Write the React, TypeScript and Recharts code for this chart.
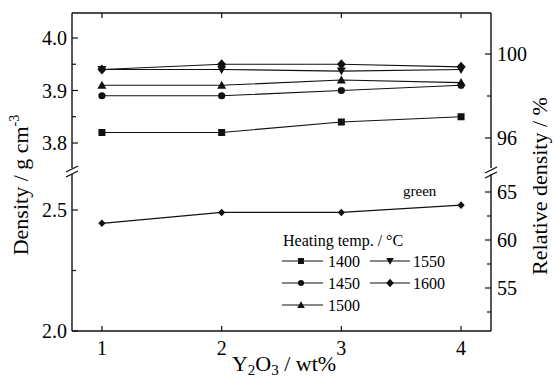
import React from 'react';
import { LineChart, Line, XAxis, YAxis } from 'recharts';

// ---------- data ----------
const xValues = [1, 2, 3, 4];
const xTicks = [1, 2, 3, 4];
const d1400 = [3.82, 3.82, 3.84, 3.85];
const d1450 = [3.89, 3.89, 3.9, 3.91];
const d1500 = [3.91, 3.91, 3.92, 3.915];
const d1550 = [3.94, 3.94, 3.937, 3.94];
const d1600 = [3.94, 3.95, 3.95, 3.945];
const dGreen = [2.445, 2.49, 2.49, 2.52];

const seriesNames = ['1400', '1450', '1500', '1550', '1600'];
const seriesShapes = ['square', 'circle', 'triangle', 'triangleDown', 'diamond'];
const seriesValues = [d1400, d1450, d1500, d1550, d1600];

const upperLeftTicks = [3.8, 3.85, 3.9, 3.95, 4.0];
const upperLeftLabels = [3.8, 3.9, 4.0];
const lowerLeftTicks = [2.0, 2.25, 2.5];
const lowerLeftLabels = [2.0, 2.5];
const upperRightTicks = [96, 98, 100];
const upperRightLabels = [96, 100];
const lowerRightTicks = [52.5, 55, 57.5, 60, 62.5, 65];
const lowerRightLabels = [55, 60, 65];

const upperData = xValues.map((x, i) => {
  const row: any = { x };
  seriesNames.forEach((n, k) => (row['t' + n] = seriesValues[k][i]));
  return row;
});
const lowerData = xValues.map((x, i) => ({ x, green: dGreen[i] }));

// ---------- style ----------
const FONT = '"Liberation Serif", "Times New Roman", serif';
const INK = '#111';
const W = 554;
const LEFT_W = 72;
const RIGHT_W = W - 491;

const isIn = (arr: number[], v: number) => arr.some((a) => Math.abs(a - v) < 1e-6);

const Marker = ({ cx, cy, shape, s = 1 }: any) => {
  if (cx == null || cy == null) return null;
  switch (shape) {
    case 'square':
      return <rect x={cx - 3.5 * s} y={cy - 3.5 * s} width={7 * s} height={7 * s} fill={INK} />;
    case 'circle':
      return <circle cx={cx} cy={cy} r={3.6 * s} fill={INK} />;
    case 'triangle':
      return (
        <path d={`M${cx},${cy - 4.5 * s}L${cx + 4.5 * s},${cy + 3.5 * s}L${cx - 4.5 * s},${cy + 3.5 * s}Z`} fill={INK} />
      );
    case 'triangleDown':
      return (
        <path d={`M${cx},${cy + 4.5 * s}L${cx + 4.5 * s},${cy - 3.5 * s}L${cx - 4.5 * s},${cy - 3.5 * s}Z`} fill={INK} />
      );
    case 'diamond':
      return (
        <path d={`M${cx},${cy - 5 * s}L${cx + 4.5 * s},${cy}L${cx},${cy + 5 * s}L${cx - 4.5 * s},${cy}Z`} fill={INK} />
      );
    case 'smallDiamond':
      return (
        <path d={`M${cx},${cy - 3.8 * s}L${cx + 3.6 * s},${cy}L${cx},${cy + 3.8 * s}L${cx - 3.6 * s},${cy}Z`} fill={INK} />
      );
    default:
      return null;
  }
};

const makeLeftTick = (labels: number[]) => (props: any) => {
  const { x, y, payload } = props;
  const major = isIn(labels, payload.value);
  return (
    <g key={`lt-${payload.value}`}>
      <line x1={x} y1={y} x2={x + (major ? 6 : 4)} y2={y} stroke={INK} strokeWidth={1.2} />
      {major && (
        <text x={x - 5} y={y} dy="0.35em" textAnchor="end" fontSize={20} fontFamily={FONT} fill="#000">
          {Number(payload.value).toFixed(1)}
        </text>
      )}
    </g>
  );
};

const makeRightTick = (labels: number[]) => (props: any) => {
  const { x, y, payload } = props;
  const major = isIn(labels, payload.value);
  return (
    <g key={`rt-${payload.value}`}>
      <line x1={x} y1={y} x2={x - (major ? 6 : 4)} y2={y} stroke={INK} strokeWidth={1.2} />
      {major && (
        <text x={x + 6} y={y} dy="0.35em" textAnchor="start" fontSize={20} fontFamily={FONT} fill="#000">
          {payload.value}
        </text>
      )}
    </g>
  );
};

const TopTick = (props: any) => {
  const { x, y, payload } = props;
  return <line key={`tt-${payload.value}`} x1={x} y1={y} x2={x} y2={y + 5} stroke={INK} strokeWidth={1.2} />;
};

const BottomTick = (props: any) => {
  const { x, y, payload } = props;
  return (
    <g key={`bt-${payload.value}`}>
      <line x1={x} y1={y} x2={x} y2={y - 5} stroke={INK} strokeWidth={1.2} />
      <text x={x} y={y + 24} textAnchor="middle" fontSize={20} fontFamily={FONT} fill="#000">
        {payload.value}
      </text>
    </g>
  );
};

const axisLine = { stroke: INK, strokeWidth: 1.4 };

export default function App() {
  const legendCols = [
    { x0: 282, x1: 323, mx: 301, tx: 328 },
    { x0: 370, x1: 410, mx: 390, tx: 413 },
  ];
  const legendRows = [261, 283, 305];
  const legendItems = seriesNames.map((n, i) => {
    const col = i < 3 ? 0 : 1;
    const row = i < 3 ? i : i - 3;
    return { name: n, shape: seriesShapes[i], c: legendCols[col], y: legendRows[row] };
  });

  return (
    <div
      style={{
        position: 'absolute',
        left: 0,
        top: 0,
        width: W,
        height: 380,
        background: '#fff',
        fontFamily: FONT,
      }}
    >
      {/* upper section */}
      <div style={{ position: 'absolute', left: 0, top: 0 }}>
        <LineChart width={W} height={168} data={upperData} margin={{ top: 12, right: 0, bottom: 0, left: 0 }}>
          <XAxis
            xAxisId="top"
            orientation="top"
            type="number"
            dataKey="x"
            domain={[0.75, 4.25]}
            ticks={xTicks}
            interval={0}
            height={1}
            tickSize={0}
            tickMargin={0}
            tick={TopTick}
            axisLine={axisLine}
            allowDataOverflow
          />
          <YAxis
            yAxisId="l"
            orientation="left"
            type="number"
            width={LEFT_W}
            domain={[3.7524, 4.0476]}
            ticks={upperLeftTicks}
            interval={0}
            tickSize={0}
            tickMargin={0}
            tick={makeLeftTick(upperLeftLabels)}
            axisLine={axisLine}
            allowDataOverflow
          />
          <YAxis
            yAxisId="r"
            orientation="right"
            type="number"
            width={RIGHT_W}
            domain={[94.571, 101.952]}
            ticks={upperRightTicks}
            interval={0}
            tickSize={0}
            tickMargin={0}
            tick={makeRightTick(upperRightLabels)}
            axisLine={axisLine}
            allowDataOverflow
          />
          {seriesNames.map((n, i) => (
            <Line
              key={n}
              xAxisId="top"
              yAxisId="l"
              dataKey={'t' + n}
              stroke={INK}
              strokeWidth={1.2}
              isAnimationActive={false}
              dot={(p: any) => <Marker key={`${n}-${p.index}`} cx={p.cx} cy={p.cy} shape={seriesShapes[i]} />}
            />
          ))}
        </LineChart>
      </div>

      {/* lower section */}
      <div style={{ position: 'absolute', left: 0, top: 174 }}>
        <LineChart width={W} height={206} data={lowerData} margin={{ top: 0, right: 0, bottom: 0, left: 0 }}>
          <XAxis
            orientation="bottom"
            type="number"
            dataKey="x"
            domain={[0.75, 4.25]}
            ticks={xTicks}
            interval={0}
            height={49}
            tickSize={0}
            tickMargin={0}
            tick={BottomTick}
            axisLine={axisLine}
            allowDataOverflow
          />
          <YAxis
            yAxisId="l"
            orientation="left"
            type="number"
            width={LEFT_W}
            domain={[2.0, 2.6488]}
            ticks={lowerLeftTicks}
            interval={0}
            tickSize={0}
            tickMargin={0}
            tick={makeLeftTick(lowerLeftLabels)}
            axisLine={axisLine}
            allowDataOverflow
          />
          <YAxis
            yAxisId="r"
            orientation="right"
            type="number"
            width={RIGHT_W}
            domain={[50.521, 66.875]}
            ticks={lowerRightTicks}
            interval={0}
            tickSize={0}
            tickMargin={0}
            tick={makeRightTick(lowerRightLabels)}
            axisLine={axisLine}
            allowDataOverflow
          />
          <Line
            yAxisId="l"
            dataKey="green"
            stroke={INK}
            strokeWidth={1.2}
            isAnimationActive={false}
            dot={(p: any) => <Marker key={`g-${p.index}`} cx={p.cx} cy={p.cy} shape="smallDiamond" />}
          />
        </LineChart>
      </div>

      {/* annotations, titles, legend */}
      <svg width={W} height={380} style={{ position: 'absolute', left: 0, top: 0, pointerEvents: 'none' }}>
        {/* axis break marks */}
        <line x1={66} y1={172} x2={78} y2={166} stroke={INK} strokeWidth={1.3} />
        <line x1={66} y1={177} x2={78} y2={171} stroke={INK} strokeWidth={1.3} />
        <line x1={485} y1={173} x2={497} y2={167} stroke={INK} strokeWidth={1.3} />
        <line x1={485} y1={178} x2={497} y2={172} stroke={INK} strokeWidth={1.3} />

        <text
          transform="translate(28,185) rotate(-90)"
          textAnchor="middle"
          fontSize={22}
          fontFamily={FONT}
          fill="#000"
        >
          Density / g cm<tspan dy={-9} fontSize={14}>-3</tspan>
        </text>
        <text
          transform="translate(547,186) rotate(-90)"
          textAnchor="middle"
          fontSize={22}
          fontFamily={FONT}
          fill="#000"
        >
          Relative density / %
        </text>
        <text x={284} y={371} textAnchor="middle" fontSize={22} fontFamily={FONT} fill="#000">
          Y<tspan dy={4} fontSize={15}>2</tspan>
          <tspan dy={-4}>O</tspan>
          <tspan dy={4} fontSize={15}>3</tspan>
          <tspan dy={-4}> / wt%</tspan>
        </text>

        <text x={403} y={196} fontSize={15} fontFamily={FONT} fill="#000">
          green
        </text>

        <text x={283} y={246} fontSize={16} fontFamily={FONT} fill="#000">
          Heating temp. / °C
        </text>
        {legendItems.map((it) => (
          <g key={it.name}>
            <line x1={it.c.x0} y1={it.y} x2={it.c.x1} y2={it.y} stroke={INK} strokeWidth={1.1} />
            <Marker cx={it.c.mx} cy={it.y} shape={it.shape} s={0.85} />
            <text x={it.c.tx} y={it.y} dy="0.35em" fontSize={16} fontFamily={FONT} fill="#000">
              {it.name}
            </text>
          </g>
        ))}
      </svg>
    </div>
  );
}
